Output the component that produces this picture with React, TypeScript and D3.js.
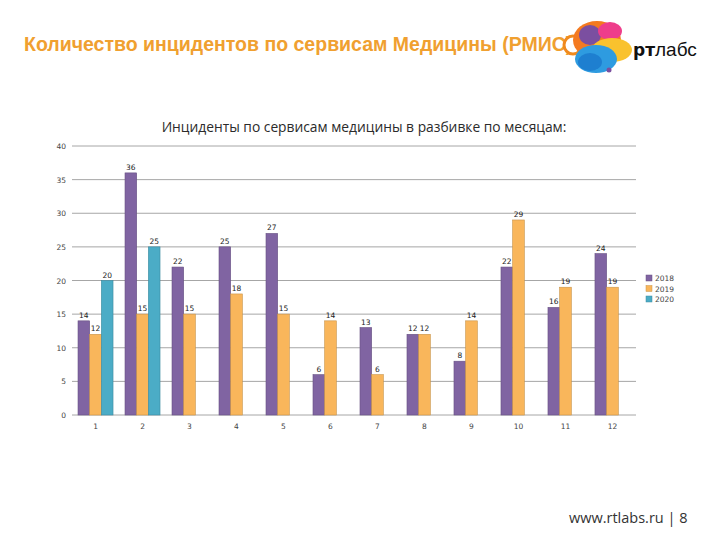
import * as d3 from 'd3';
import React from 'react';

// months (categories) and incidents per year
const months = ['1', '2', '3', '4', '5', '6', '7', '8', '9', '10', '11', '12'];
const years = ['2018', '2019', '2020'];
const values2018 = [14, 36, 22, 25, 27, 6, 13, 12, 8, 22, 16, 24];
const values2019 = [12, 15, 15, 18, 15, 14, 6, 12, 14, 29, 19, 19];
const values2020: (number | null)[] = [20, 25, null, null, null, null, null, null, null, null, null, null];
const yTicks = [0, 5, 10, 15, 20, 25, 30, 35, 40];
const colors = ['#8064A2', '#F9B65B', '#4BACC6'];

const App = () => {
    const width = 720;
    const height = 540;
    const plot = { left: 72, right: 636, top: 146, bottom: 415 };

    const x = d3.scaleBand().domain(months).range([plot.left, plot.right]).paddingInner(0.255).paddingOuter(0.128);
    const x1 = d3.scaleBand().domain(years).range([0, x.bandwidth()]);
    const y = d3.scaleLinear().domain([0, 40]).range([plot.bottom, plot.top]);

    const series = [values2018, values2019, values2020];

    return (
        <svg width={width} height={height} style={{ position: 'absolute', left: 0, top: 0, background: '#fff' }}>
            {/* slide title, partly hidden under the logo */}
            <text x={24} y={51} fontFamily="Liberation Sans, Arial, sans-serif" fontWeight="bold" fontSize={19.5} fill="#F0A030">
                Количество инцидентов по сервисам Медицины (РМИС)
            </text>

            {/* logo */}
            <g>
                <circle cx={573} cy={45} r={9} fill="#fff" stroke="#F08A1E" strokeWidth={3} />
                <ellipse cx={597} cy={40} rx={24} ry={19} fill="#F47A20" />
                <ellipse cx={590} cy={35} rx={11} ry={10} fill="#7B4FA0" />
                <ellipse cx={610} cy={31} rx={12} ry={9} fill="#EE3D8B" />
                <ellipse cx={612} cy={50} rx={20} ry={12} fill="#F9C22E" />
                <ellipse cx={596} cy={59} rx={21} ry={14} fill="#2E9BE0" />
                <ellipse cx={590} cy={62} rx={12} ry={9} fill="#1E7FD0" />
                <circle cx={609} cy={70} r={2.5} fill="#7B4FA0" />
                <text x={633} y={56} fontFamily="DejaVu Sans, sans-serif" fontSize={17} fill="#111">
                    <tspan fontWeight="bold">рт</tspan>
                    <tspan fontWeight="200" fontFamily="Liberation Sans, sans-serif" fontSize={19}>лабс</tspan>
                </text>
            </g>

            {/* chart title */}
            <text x={364} y={132} textAnchor="middle" fontFamily="Open Sans, Noto Sans, sans-serif" fontSize={13.8} fill="#2b2b2b">
                Инциденты по сервисам медицины в разбивке по месяцам:
            </text>

            {/* grid and y labels */}
            {yTicks.map((t) => (
                <g key={t}>
                    <line x1={plot.left} x2={plot.right} y1={y(t)} y2={y(t)} stroke="#A6A6A6" strokeWidth={1} />
                    <text x={66} y={y(t) + 3} textAnchor="end" fontFamily="DejaVu Sans, sans-serif" fontSize={7.5} fill="#444">{t}</text>
                </g>
            ))}

            {/* bars */}
            {series.map((vals, si) => (
                <g key={years[si]}>
                    {vals.map((v, i) => v == null ? null : (
                        <g key={i}>
                            <rect
                                x={(x(months[i]) as number) + (x1(years[si]) as number)}
                                y={y(v)}
                                width={x1.bandwidth()}
                                height={y(0) - y(v)}
                                fill={colors[si]}
                                stroke={d3.rgb(colors[si]).darker(0.6).toString()}
                                strokeWidth={0.6}
                            />
                            <text
                                x={(x(months[i]) as number) + (x1(years[si]) as number) + x1.bandwidth() / 2}
                                y={y(v) - 3}
                                textAnchor="middle"
                                fontFamily="DejaVu Sans, sans-serif"
                                fontSize={7.5}
                                fill="#222"
                            >{v}</text>
                        </g>
                    ))}
                </g>
            ))}

            {/* x labels */}
            {months.map((m) => (
                <text key={m} x={(x(m) as number) + x.bandwidth() / 2} y={429} textAnchor="middle" fontFamily="DejaVu Sans, sans-serif" fontSize={7.5} fill="#444">{m}</text>
            ))}

            {/* legend */}
            {years.map((yr, i) => (
                <g key={yr} transform={`translate(646, ${275 + i * 10.5})`}>
                    <rect width={6} height={6} fill={colors[i]} stroke={d3.rgb(colors[i]).darker(0.6).toString()} strokeWidth={0.5} />
                    <text x={9} y={6} fontFamily="DejaVu Sans, sans-serif" fontSize={7.5} fill="#444">{yr}</text>
                </g>
            ))}

            {/* footer */}
            <text x={569} y={523} fontFamily="Open Sans, Noto Sans, sans-serif" fontSize={14.5} fill="#333">www.rtlabs.ru | 8</text>
        </svg>
    );
};

export default App;
